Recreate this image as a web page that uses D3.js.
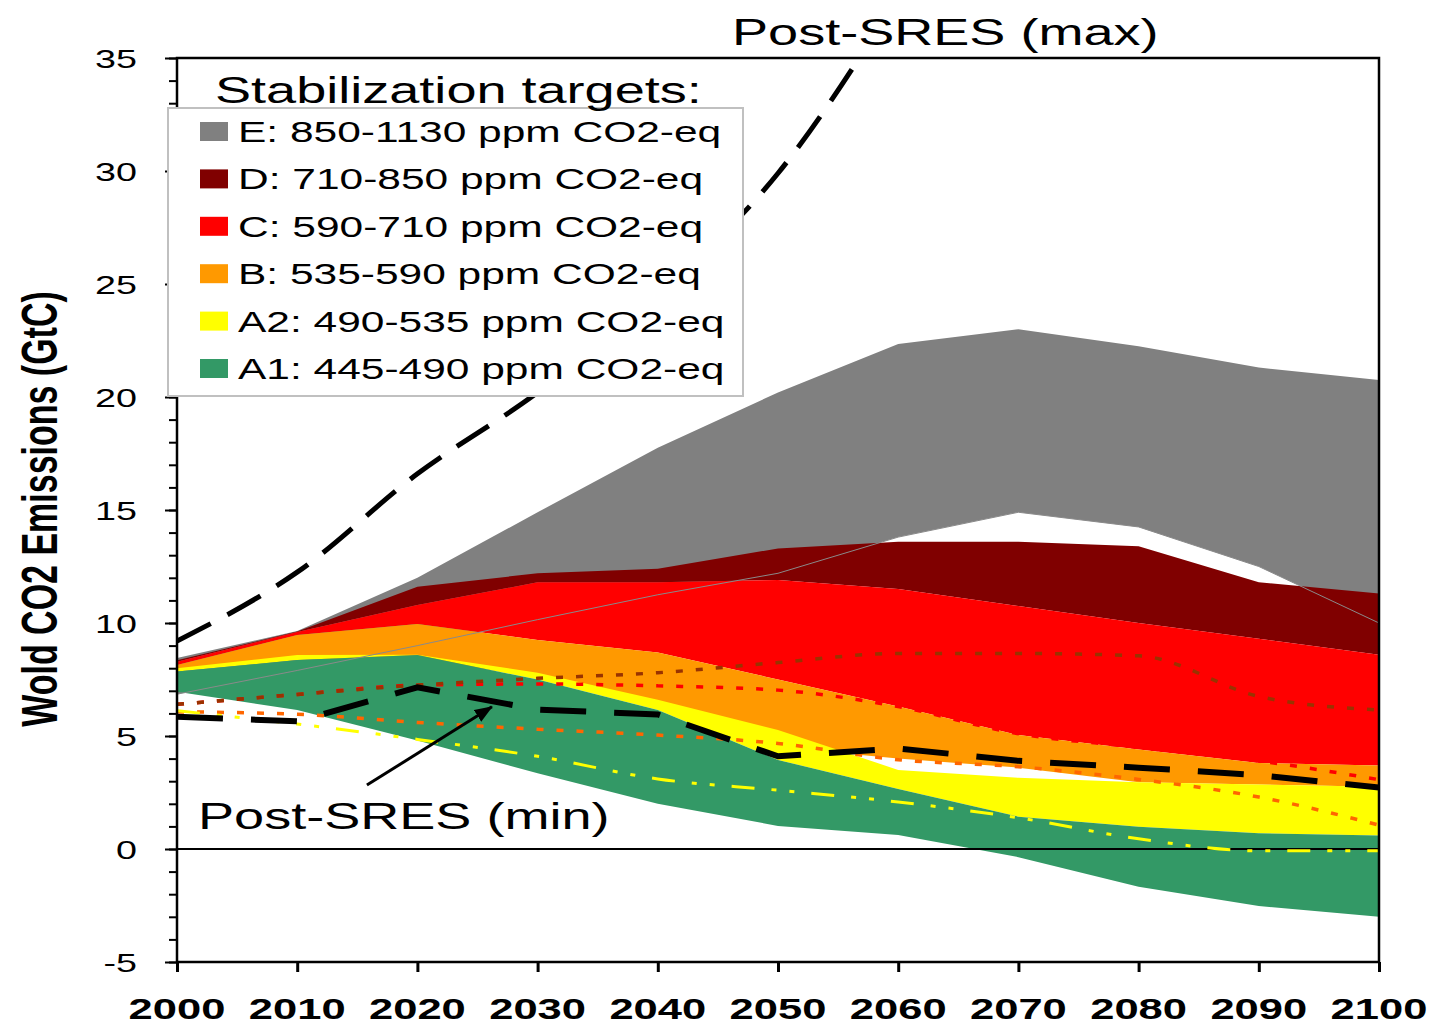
<!DOCTYPE html>
<html>
<head>
<meta charset="utf-8">
<script src="https://cdn.jsdelivr.net/npm/d3@7"></script>
<style>
  html, body { margin: 0; padding: 0; background: #fff; }
  svg { display: block; }
  text { font-family: "Liberation Sans", Arial, sans-serif; fill: #000; }
</style>
</head>
<body>
<svg id="chart" width="1433" height="1027"></svg>
<script>
// ---------------- DATA ----------------
const years = [2000, 2010, 2020, 2030, 2040, 2050, 2060, 2070, 2080, 2090, 2100];

// Stabilization category bands (GtC): upper / lower bounds
const bandE_hi  = [8.45, 9.65, 12.0, 14.9, 17.75, 20.2, 22.35, 23.0, 22.25, 21.3, 20.75];
const bandE_lo  = [6.85, 7.9, 9.0, 10.15, 11.25, 12.2, 13.8, 14.9, 14.25, 12.5, 10.0];
const bandD_hi  = [8.35, 9.62, 11.6, 12.2, 12.4, 13.3, 13.6, 13.6, 13.4, 11.8, 11.3];
const bandD_lo  = [8.29, 9.6, 10.8, 11.8, 11.8, 11.9, 11.5, 10.75, 10.0, 9.3, 8.6];
const bandC_hi  = [8.29, 9.6, 10.8, 11.8, 11.8, 11.9, 11.5, 10.75, 10.0, 9.3, 8.6];
const bandC_lo  = [8.14, 9.47, 9.96, 9.25, 8.7, 7.5, 6.3, 5.04, 4.4, 3.8, 3.7];
const bandB_hi  = [8.14, 9.47, 9.96, 9.25, 8.7, 7.5, 6.3, 5.04, 4.4, 3.8, 3.7];
const bandB_lo  = [7.9, 8.4, 8.4, 7.6, 6.4, 4.5, 4.0, 3.6, 2.95, 2.85, 2.75];
const bandA2_hi = [8.0, 8.58, 8.6, 7.8, 6.6, 5.27, 3.5, 3.15, 2.95, 2.85, 2.75];
const bandA2_lo = [7.85, 8.36, 8.58, 7.5, 6.15, 3.94, 2.65, 1.43, 0.99, 0.7, 0.6];
const bandA1_hi = [7.85, 8.36, 8.58, 7.5, 6.15, 3.94, 2.65, 1.43, 0.99, 0.7, 0.6];
const bandA1_lo = [6.96, 6.15, 4.8, 3.35, 2.0, 1.02, 0.62, -0.36, -1.67, -2.52, -3.0];

// Individual scenario lines
const lineBrown  = [6.4, 6.84, 7.25, 7.55, 7.8, 8.25, 8.65, 8.65, 8.55, 6.75, 6.15];
const lineRed    = [6.4, 6.84, 7.25, 7.3, 7.22, 7.03, 6.3, 5.1, 4.5, 3.9, 3.07];
const lineOrange = [6.07, 5.96, 5.6, 5.3, 5.04, 4.67, 3.95, 3.64, 3.08, 2.3, 1.06];
const lineYellow = [6.12, 5.53, 4.85, 4.1, 3.1, 2.6, 2.08, 1.38, 0.45, -0.08, -0.08];

// Post-SRES range
const postSresMin = [5.85, 5.65, 7.15, 6.17, 5.95, 4.1, 4.45, 3.9, 3.6, 3.27, 2.72];
const postSresMaxYears = [2000, 2010, 2020, 2030, 2040, 2050, 2060];
const postSresMax = [9.2, 12.25, 16.6, 20.2, 24.5, 29.9, 37.7];

// Legend
const legendLabels = [
  "E: 850-1130 ppm CO2-eq",
  "D: 710-850 ppm CO2-eq",
  "C: 590-710 ppm CO2-eq",
  "B: 535-590 ppm CO2-eq",
  "A2: 490-535 ppm CO2-eq",
  "A1: 445-490 ppm CO2-eq"
];
const legendColors = ["#808080", "#800000", "#FF0000", "#FF9900", "#FFFF00", "#339966"];

const yTickLabels = [-5, 0, 5, 10, 15, 20, 25, 30, 35];
const xTickLabels = years;

// ---------------- DRAW ----------------
const svg = d3.select("#chart");
const X0 = 177, X1 = 1379, Y0 = 962, Y1 = 58;
const SX = 1.45; // horizontal stretch of the original figure's text

const x = d3.scaleLinear().domain([2000, 2100]).range([X0, X1]);
const y = d3.scaleLinear().domain([-5, 35]).range([Y0, Y1]);

const defs = svg.append("defs");
defs.append("clipPath").attr("id", "plotClip")
  .append("rect").attr("x", X0).attr("y", Y1).attr("width", X1 - X0).attr("height", Y0 - Y1);
defs.append("marker")
  .attr("id", "arrowHead")
  .attr("markerUnits", "userSpaceOnUse")
  .attr("viewBox", "0 0 18 14")
  .attr("markerWidth", 18).attr("markerHeight", 14)
  .attr("refX", 17).attr("refY", 7)
  .attr("orient", "auto")
  .append("path").attr("d", "M0,0 L18,7 L0,14 Z").attr("fill", "#000");

const plot = svg.append("g").attr("clip-path", "url(#plotClip)");

function zipBand(lo, hi) { return years.map((yr, i) => ({ year: yr, lo: lo[i], hi: hi[i] })); }
function zipLine(yrs, vals) { return yrs.map((yr, i) => ({ year: yr, v: vals[i] })); }

const area = d3.area().x(d => x(d.year)).y0(d => y(d.lo)).y1(d => y(d.hi));
const line = d3.line().x(d => x(d.year)).y(d => y(d.v));
const smoothLine = d3.line().x(d => x(d.year)).y(d => y(d.v)).curve(d3.curveMonotoneX);

const bands = [
  [bandE_lo, bandE_hi, legendColors[0]],
  [bandD_lo, bandD_hi, legendColors[1]],
  [bandC_lo, bandC_hi, legendColors[2]],
  [bandB_lo, bandB_hi, legendColors[3]],
  [bandA2_lo, bandA2_hi, legendColors[4]],
  [bandA1_lo, bandA1_hi, legendColors[5]]
];
bands.forEach(([lo, hi, c]) => {
  plot.append("path").datum(zipBand(lo, hi)).attr("d", area).attr("fill", c).attr("stroke", "none");
});

// thin grey lower bound of E
plot.append("path").datum(zipLine(years, bandE_lo)).attr("d", line)
  .attr("fill", "none").attr("stroke", "#8a8a8a").attr("stroke-width", 1);

// zero line
plot.append("line").attr("x1", X0).attr("x2", X1).attr("y1", y(0)).attr("y2", y(0))
  .attr("stroke", "#000").attr("stroke-width", 2);

// scenario lines
const scen = [
  [lineRed, "#FF0000", "7,13", 3.5],
  [lineBrown, "#993300", "7,13", 3.5],
  [lineOrange, "#FF6600", "7,13", 3.5],
  [lineYellow, "#FFFF00", "23,17,5,13,5,17", 3]
];
scen.forEach(([vals, c, dash, w]) => {
  plot.append("path").datum(zipLine(years, vals)).attr("d", smoothLine)
    .attr("fill", "none").attr("stroke", c).attr("stroke-width", w)
    .attr("stroke-dasharray", dash);
});

// Post-SRES lines
plot.append("path").datum(zipLine(years, postSresMin)).attr("d", line)
  .attr("fill", "none").attr("stroke", "#000").attr("stroke-width", 6)
  .attr("stroke-dasharray", "46,28");
plot.append("path").datum(zipLine(postSresMaxYears, postSresMax)).attr("d", smoothLine)
  .attr("fill", "none").attr("stroke", "#000").attr("stroke-width", 5)
  .attr("stroke-dasharray", "38,19");

// Frame
svg.append("rect").attr("x", X0).attr("y", Y1).attr("width", X1 - X0).attr("height", Y0 - Y1)
  .attr("fill", "none").attr("stroke", "#000").attr("stroke-width", 2.5);

// Y axis ticks (minor every 1, major every 5)
const yAxisMinor = d3.axisLeft(y).tickValues(d3.range(-5, 36, 1)).tickSize(8).tickFormat("");
svg.append("g").attr("transform", `translate(${X0},0)`).call(yAxisMinor)
  .call(g => g.select(".domain").remove())
  .call(g => g.selectAll("line").attr("stroke-width", 2));
const yAxisMajor = d3.axisLeft(y).tickValues(yTickLabels).tickSize(12).tickFormat("");
svg.append("g").attr("transform", `translate(${X0},0)`).call(yAxisMajor)
  .call(g => g.select(".domain").remove())
  .call(g => g.selectAll("line").attr("stroke-width", 2));

// X axis ticks
const xAxis = d3.axisBottom(x).tickValues(xTickLabels).tickSize(10).tickFormat("");
svg.append("g").attr("transform", `translate(0,${Y0})`).call(xAxis)
  .call(g => g.select(".domain").remove())
  .call(g => g.selectAll("line").attr("stroke-width", 3));

function stretchedText(px, py, str, size, weight, anchor) {
  return svg.append("text")
    .attr("transform", `translate(${px},${py}) scale(${SX},1)`)
    .attr("text-anchor", anchor || "start")
    .style("font-size", size + "px")
    .style("font-weight", weight || "normal")
    .text(str);
}

// Y tick labels
yTickLabels.forEach(v => stretchedText(137, y(v) + 9.5, String(v), 26, "normal", "end"));
// X tick labels
xTickLabels.forEach(v => stretchedText(x(v), 1019, String(v), 30, "bold", "middle"));

// Y axis title
svg.append("text")
  .attr("transform", `translate(57,509) scale(${SX},1) rotate(-90)`)
  .attr("text-anchor", "middle")
  .style("font-size", "34px").style("font-weight", "bold")
  .text("Wold CO2 Emissions (GtC)");

// Annotations
stretchedText(732, 45, "Post-SRES (max)", 37.3);
stretchedText(198, 829, "Post-SRES (min)", 37.3);
svg.append("line")
  .attr("x1", x(2015.8)).attr("y1", y(2.83))
  .attr("x2", x(2026.2)).attr("y2", y(6.29))
  .attr("stroke", "#000").attr("stroke-width", 3)
  .attr("marker-end", "url(#arrowHead)");

// Legend
svg.append("rect").attr("x", 168).attr("y", 108).attr("width", 575).attr("height", 288)
  .attr("fill", "#fff").attr("stroke", "#c0c0c0").attr("stroke-width", 2);
stretchedText(215, 103, "Stabilization targets:", 37.3);
legendLabels.forEach((lab, i) => {
  const by = 142 + i * 47.4;
  svg.append("rect").attr("x", 200).attr("y", by - 20).attr("width", 28).attr("height", 19)
    .attr("fill", legendColors[i]);
  stretchedText(238, by, lab, 29.3);
});
</script>
</body>
</html>
